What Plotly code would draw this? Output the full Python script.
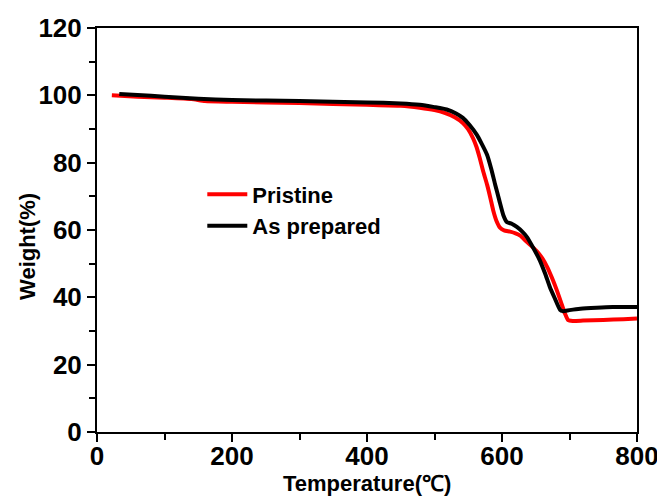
import plotly.graph_objects as go

# Pristine (red)
pristine_T = [22, 60, 100, 140, 160, 200, 300, 400, 450, 478, 500, 515, 530, 542, 550, 557, 562, 567,
              572, 578, 583, 587, 592, 597, 603, 612, 620, 627, 635, 645, 652, 660, 667, 674, 681, 687,
              693, 698, 705, 720, 750, 780, 800]
pristine_W = [100.0, 99.6, 99.3, 98.9, 98.3, 98.1, 97.7, 97.2, 96.9, 96.3, 95.6, 94.8, 93.5, 91.8, 89.9,
              87.3, 84.8, 81.4, 77.5, 73.4, 69.3, 65.8, 62.6, 60.7, 59.9, 59.5, 59.0, 58.3, 56.8, 55.0,
              53.6, 51.5, 49.0, 45.8, 42.2, 38.8, 35.3, 33.2, 33.0, 33.1, 33.3, 33.5, 33.7]

# As prepared (black)
prepared_T = [33, 60, 100, 150, 200, 300, 400, 450, 478, 500, 518, 532, 542, 552, 563, 570, 578, 584,
              590, 596, 602, 607, 615, 622, 630, 637, 646, 656, 664, 671, 678, 686, 690, 700, 716, 740,
              764, 800]
prepared_W = [100.4, 100.1, 99.6, 99.0, 98.6, 98.3, 97.9, 97.6, 97.2, 96.5, 95.8, 94.6, 93.3, 91.2, 88.2,
              85.6, 82.3, 78.2, 73.4, 68.8, 64.4, 62.4, 61.8, 60.9, 59.5, 57.9, 54.8, 51.0, 47.0, 43.0,
              39.8, 36.3, 35.9, 36.2, 36.6, 36.9, 37.1, 37.1]

x_ticks = [0, 200, 400, 600, 800]
y_ticks = [0, 20, 40, 60, 80, 100, 120]
x_title = "Temperature(℃)"
y_title = "Weight(%)"

FONT = "Liberation Sans, Arial, sans-serif"

fig = go.Figure()
fig.add_trace(go.Scatter(x=pristine_T, y=pristine_W, mode="lines", name="Pristine",
                         line=dict(color="#ff0000", width=4, shape="spline", smoothing=0.5)))
fig.add_trace(go.Scatter(x=prepared_T, y=prepared_W, mode="lines", name="As prepared",
                         line=dict(color="#000000", width=4, shape="spline", smoothing=0.5)))

axis_common = dict(showgrid=False, zeroline=False, showline=True, linecolor="black", linewidth=2,
                   mirror=True, ticks="outside", ticklen=8, tickwidth=2, tickcolor="black",
                   automargin=False,
                   tickfont=dict(family=FONT, size=26, color="black", weight="bold"))

fig.update_xaxes(range=[0, 800], tickvals=x_ticks, ticktext=[str(v) for v in x_ticks],
                 ticklabelstandoff=-8,
                 minor=dict(ticks="outside", ticklen=6, tickwidth=2, tickcolor="black", dtick=100, tick0=0),
                 **axis_common)
fig.update_yaxes(range=[0, 120], tickvals=y_ticks, ticktext=[str(v) for v in y_ticks],
                 minor=dict(ticks="outside", ticklen=6, tickwidth=2, tickcolor="black", dtick=10, tick0=0),
                 **axis_common)

fig.add_annotation(text=x_title, xref="paper", yref="paper", x=0.5, y=0, xanchor="center",
                   yanchor="middle", yshift=-51, showarrow=False,
                   font=dict(family=FONT, size=22, color="black", weight="bold"))
fig.add_annotation(text=y_title, xref="paper", yref="paper", x=0, y=0.458, xanchor="center",
                   yanchor="middle", xshift=-69, textangle=-90, showarrow=False,
                   font=dict(family=FONT, size=22, color="black", weight="bold"))

fig.update_layout(
    width=657, height=490,
    margin=dict(l=89, r=28, t=20, b=66, autoexpand=False),
    paper_bgcolor="white", plot_bgcolor="white",
    showlegend=True,
    legend=dict(x=0.195, y=0.64, xanchor="left", yanchor="top", bgcolor="rgba(0,0,0,0)",
                font=dict(family=FONT, size=22, color="black", weight="bold"),
                itemwidth=40, tracegroupgap=0),
)

fig.write_html("out.html")
